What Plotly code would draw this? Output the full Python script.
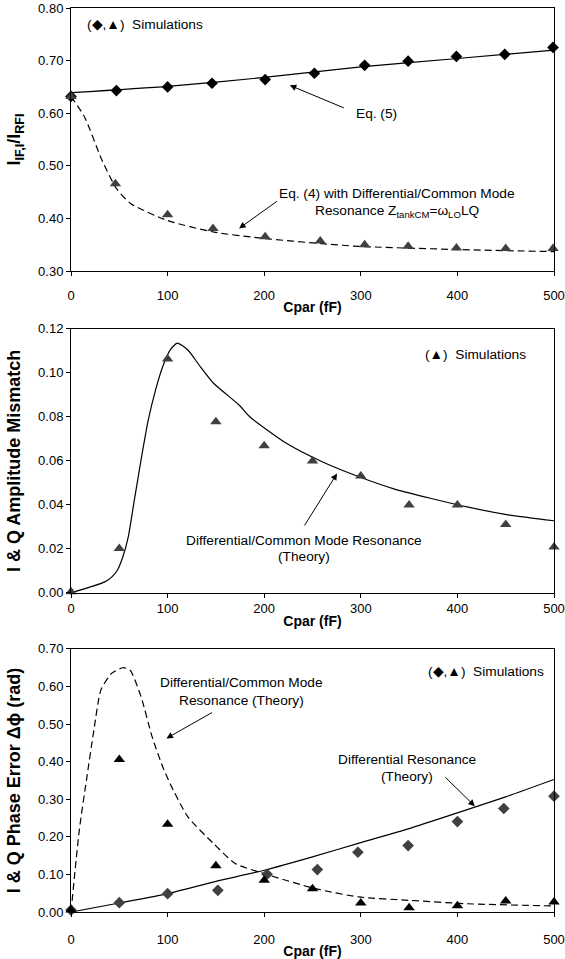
import plotly.graph_objects as go

# ---------------- data ----------------
x_ticks = [0, 100, 200, 300, 400, 500]

# Panel 1
p1_dia_x = [0, 47, 100, 146, 201, 252, 304, 349, 399, 449, 499]
p1_dia_y = [0.632, 0.643, 0.650, 0.657, 0.664, 0.676, 0.691, 0.699, 0.708, 0.712, 0.725]
p1_tri_x = [0, 46, 100, 147, 201, 258, 304, 349, 399, 450, 499]
p1_tri_y = [0.632, 0.466, 0.407, 0.381, 0.365, 0.357, 0.350, 0.347, 0.344, 0.343, 0.343]
p1_eq5_x = [0, 100, 200, 300, 400, 500]
p1_eq5_y = [0.639, 0.651, 0.668, 0.688, 0.704, 0.720]
p1_eq4_x = [0, 14, 32, 47, 62, 100, 148, 200, 260, 297, 398, 500]
p1_eq4_y = [0.632, 0.593, 0.511, 0.457, 0.428, 0.396, 0.374, 0.362, 0.352, 0.347, 0.341, 0.337]

# Panel 2
p2_tri_x = [0, 50, 100, 150, 200, 250, 300, 350, 400, 450, 500]
p2_tri_y = [0.0005, 0.0202, 0.1063, 0.0778, 0.0669, 0.0599, 0.0531, 0.0399, 0.0399, 0.0311, 0.0209]
p2_th_x = [0, 35, 42.4, 48, 53.7, 59.3, 65, 72.5, 80, 87.5, 95, 102.6, 110, 121, 132.6, 147.6,
           174, 185, 223, 260, 298, 335, 373, 410, 448, 500]
p2_th_y = [0, 0.005, 0.0073, 0.0103, 0.0164, 0.0255, 0.0407, 0.0604, 0.0786, 0.0922, 0.1029,
           0.1104, 0.1135, 0.1104, 0.1036, 0.0953, 0.0854, 0.0801, 0.0680, 0.0596, 0.0528,
           0.0472, 0.0429, 0.0391, 0.0358, 0.0328]

# Panel 3
p3_tri_x = [0, 50, 100, 150, 200, 250, 300, 350, 400, 450, 500]
p3_tri_y = [0.005, 0.406, 0.2336, 0.1234, 0.0844, 0.0622, 0.024, 0.0115, 0.0169, 0.0293, 0.0267]
p3_dia_x = [0, 50, 100, 152, 203, 255, 297, 349, 400, 448, 500]
p3_dia_y = [0.005, 0.0249, 0.0489, 0.0577, 0.1004, 0.1128, 0.159, 0.1768, 0.2407, 0.2754, 0.3083]
p3_diff_x = [0, 50, 100, 150, 200, 250, 300, 350, 400, 450, 500]
p3_diff_y = [0, 0.024, 0.049, 0.0817, 0.111, 0.1466, 0.1848, 0.222, 0.2638, 0.3065, 0.3527]
p3_dcm_x = [0, 8.6, 16, 23.7, 31, 42, 53.7, 61, 72.5, 84, 95, 102.5, 121, 147.6, 170, 200,
            253, 298, 350, 410, 500]
p3_dcm_y = [0, 0.218, 0.351, 0.484, 0.591, 0.635, 0.650, 0.644, 0.573, 0.466, 0.386, 0.342,
            0.253, 0.182, 0.129, 0.102, 0.062, 0.040, 0.031, 0.022, 0.016]

# ---------------- figure ----------------
FONT = "Liberation Sans, Arial, sans-serif"
DGRAY = "#404040"
DASH = "7px,4px"

fig = go.Figure()

def line(x, y, xa, ya, dash=None, color="black"):
    fig.add_trace(go.Scatter(x=x, y=y, xaxis=xa, yaxis=ya, mode="lines",
                             line=dict(color=color, width=1.2, dash=dash, shape="spline", smoothing=0.6),
                             showlegend=False, hoverinfo="skip"))

def marks(x, y, xa, ya, symbol, color, size):
    fig.add_trace(go.Scatter(x=x, y=y, xaxis=xa, yaxis=ya, mode="markers",
                             marker=dict(symbol=symbol, color=color, size=size, line=dict(width=0)),
                             cliponaxis=False, showlegend=False))

# panel 1
line(p1_eq5_x, p1_eq5_y, "x", "y")
line(p1_eq4_x, p1_eq4_y, "x", "y", dash=DASH)
marks(p1_dia_x, p1_dia_y, "x", "y", "diamond", "black", 9)
marks(p1_tri_x, p1_tri_y, "x", "y", "triangle-up", DGRAY, 10)
# panel 2
line(p2_th_x, p2_th_y, "x2", "y2")
marks(p2_tri_x, p2_tri_y, "x2", "y2", "triangle-up", DGRAY, 10)
# panel 3
line(p3_diff_x, p3_diff_y, "x3", "y3")
line(p3_dcm_x, p3_dcm_y, "x3", "y3", dash=DASH)
marks(p3_dia_x, p3_dia_y, "x3", "y3", "diamond", DGRAY, 9)
marks(p3_tri_x, p3_tri_y, "x3", "y3", "triangle-up", "black", 10)

axis_common = dict(showline=True, mirror=True, linecolor="black", linewidth=1,
                   ticks="outside", ticklen=4, tickcolor="black", showgrid=False,
                   zeroline=False, ticklabeloverflow="allow", automargin=False,
                   tickfont=dict(family=FONT, size=13, color="black"))

def xaxis(domain_anchor, standoff, tstand):
    return dict(axis_common, range=[0, 500], tickvals=x_ticks, anchor=domain_anchor,
                ticklabelstandoff=standoff,
                title=dict(text="<b>Cpar (fF)</b>", font=dict(family=FONT, size=14, color="black"),
                           standoff=tstand))

def yaxis(domain, rng, dtick, title, anchor, tstand):
    return dict(axis_common, domain=domain, range=rng, dtick=dtick, tickformat=".2f",
                anchor=anchor,
                title=dict(text=title, font=dict(family=FONT, size=18, color="black"), standoff=tstand))

fig.update_layout(
    width=565, height=959,
    margin=dict(l=71, r=11, t=8, b=47),
    paper_bgcolor="white", plot_bgcolor="white",
    font=dict(family=FONT, size=13, color="black"),
    xaxis=xaxis("y", 8, 0),
    xaxis2=xaxis("y2", 0, 0),
    xaxis3=xaxis("y3", 11, 2),
    yaxis=yaxis([0.709, 1.0], [0.30, 0.80], 0.1, "<b>I<sub>IF,I</sub>/I<sub>RFI</sub></b>", "x", 12),
    yaxis2=yaxis([0.353, 0.645], [0, 0.12], 0.02, "<b>I &amp; Q Amplitude Mismatch</b>", "x2", 12),
    yaxis3=yaxis([0.0, 0.291], [0, 0.70], 0.1, "<b>I &amp; Q Phase Error Δϕ (rad)</b>", "x3", 12),
)

ann_font = dict(family=FONT, size=13.7, color="black")

def text(x, y, s, xref, yref, xanchor="center"):
    fig.add_annotation(x=x, y=y, xref=xref, yref=yref, text=s, showarrow=False,
                       font=ann_font, xanchor=xanchor, yanchor="middle")

def arrow(tx, ty, fx, fy, xref, yref):
    fig.add_annotation(x=tx, y=ty, ax=fx, ay=fy, xref=xref, yref=yref, axref=xref, ayref=yref,
                       text="", showarrow=True, arrowhead=2, arrowsize=1.3, arrowwidth=1,
                       arrowcolor="black")

# panel 1 annotations
text(14, 0.7695, "(◆,▲)  Simulations", "x", "y", xanchor="left")
text(316, 0.5995, "Eq. (5)", "x", "y")
arrow(226.5, 0.653, 284, 0.609, "x", "y")
text(337, 0.4472, "Eq. (4) with Differential/Common Mode", "x", "y")
text(337, 0.4136, "Resonance Z<sub>tankCM</sub>=ω<sub>LO</sub>LQ", "x", "y")
arrow(174, 0.381, 214.6, 0.4345, "x", "y")

# panel 2 annotations
text(419, 0.1085, "(▲)  Simulations", "x2", "y2")
text(241.5, 0.024, "Differential/Common Mode Resonance", "x2", "y2")
text(241.5, 0.0164, "(Theory)", "x2", "y2")
arrow(275.4, 0.0543, 240.8, 0.030, "x2", "y2")

# panel 3 annotations
text(430, 0.6396, "(◆,▲)  Simulations", "x3", "y3")
text(176.6, 0.610, "Differential/Common Mode", "x3", "y3")
text(176.6, 0.564, "Resonance (Theory)", "x3", "y3")
arrow(98.8, 0.462, 147.6, 0.533, "x3", "y3")
text(347.5, 0.406, "Differential Resonance", "x3", "y3")
text(347.5, 0.3616, "(Theory)", "x3", "y3")
arrow(418, 0.2816, 386, 0.3624, "x3", "y3")

fig.write_html("out.html", config={"displayModeBar": False},
               post_script="document.body.style.margin='0';document.body.style.overflow='hidden';")
